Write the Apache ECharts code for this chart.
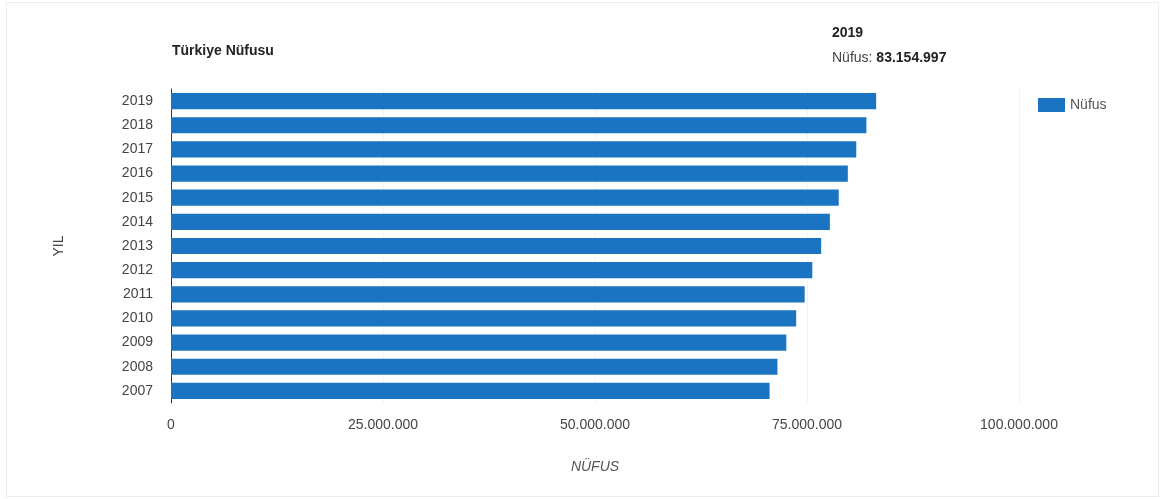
<!DOCTYPE html>
<html>
<head>
<meta charset="utf-8">
<script src="https://cdn.jsdelivr.net/npm/echarts@6/dist/echarts.min.js"></script>
<style>
  html, body { margin: 0; padding: 0; background: #fff; }
  #chart { width: 1165px; height: 499px; }
</style>
</head>
<body>
<div id="chart"></div>
<script>
// Türkiye population by year (ADNKS)
const years = ['2007', '2008', '2009', '2010', '2011', '2012', '2013', '2014', '2015', '2016', '2017', '2018', '2019'];
const population = [70586256, 71517100, 72561312, 73722988, 74724269, 75627384, 76667864, 77695904, 78741053, 79814871, 80810525, 82003882, 83154997];
const xTicks = [0, 25000000, 50000000, 75000000, 100000000];

const seriesName = 'Nüfus';
const highlightIndex = years.length - 1;

function fmt(n) {
  return String(n).replace(/\B(?=(\d{3})+(?!\d))/g, '.');
}

const chart = echarts.init(document.getElementById('chart'), null, { renderer: 'canvas' });
const font = 'Liberation Sans, Arial, sans-serif';

chart.setOption({
  backgroundColor: '#ffffff',
  animation: false,
  textStyle: { fontFamily: font },
  title: [
    {
      text: 'Türkiye Nüfusu',
      left: 167, top: 39,
      textStyle: { fontSize: 14, fontWeight: 'bold', color: '#222', fontFamily: font }
    },
    {
      text: '{y|' + years[highlightIndex] + '}\n{l|' + seriesName + ': }{v|' + fmt(population[highlightIndex]) + '}',
      left: 827, top: 16,
      textStyle: {
        fontFamily: font,
        rich: {
          y: { fontSize: 14, fontWeight: 'bold', color: '#222', lineHeight: 25 },
          l: { fontSize: 14, fontWeight: 'normal', color: '#444', lineHeight: 25 },
          v: { fontSize: 14, fontWeight: 'bold', color: '#222', lineHeight: 25 }
        }
      }
    }
  ],
  legend: {
    left: 1033, top: 93,
    itemWidth: 27, itemHeight: 14, itemGap: 8,
    icon: 'rect',
    textStyle: { fontSize: 14, color: '#555', fontFamily: font },
    data: [seriesName]
  },
  grid: { left: 171, right: 146, top: 89, bottom: 96, containLabel: false },
  xAxis: {
    type: 'value',
    min: xTicks[0], max: xTicks[xTicks.length - 1], interval: xTicks[1] - xTicks[0],
    name: 'NÜFUS', nameLocation: 'middle', nameGap: 57,
    nameTextStyle: { fontStyle: 'italic', color: '#555', fontSize: 14 },
    axisLine: { show: false },
    axisTick: { show: false },
    axisLabel: { color: '#444', fontSize: 14, margin: 15, formatter: v => fmt(v) },
    splitLine: { show: true, lineStyle: { color: '#f3f3f3' } }
  },
  yAxis: {
    type: 'category',
    data: years,
    name: 'YIL', nameLocation: 'middle', nameGap: 105, nameRotate: 90,
    nameTextStyle: { color: '#444', fontSize: 14 },
    axisLine: { show: true, lineStyle: { color: '#333', width: 1 } },
    axisTick: { show: false },
    axisLabel: { color: '#444', fontSize: 14, margin: 18 }
  },
  series: [{
    name: seriesName,
    type: 'bar',
    data: population,
    barCategoryGap: '33%',
    itemStyle: { color: '#1b74c1' }
  }],
  graphic: [{
    type: 'rect',
    shape: { x: 6.5, y: 2.5, width: 1152, height: 494 },
    style: { fill: 'none', stroke: '#ececec', lineWidth: 1 },
    silent: true
  }]
});
</script>
</body>
</html>
